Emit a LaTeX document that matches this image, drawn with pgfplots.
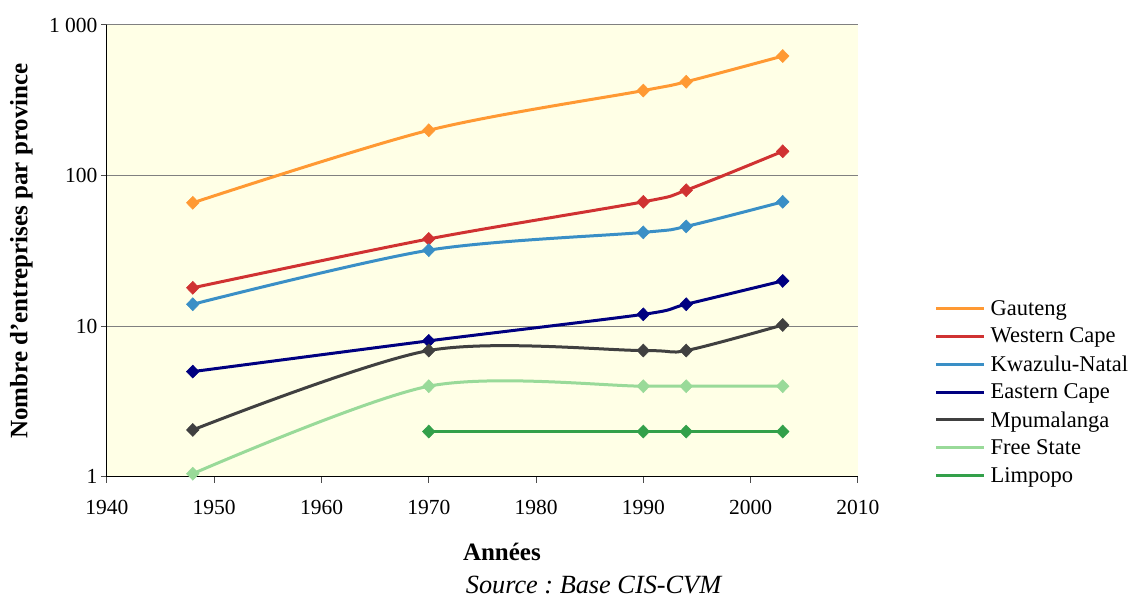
\documentclass[border=0pt]{standalone}
\usepackage{pgfplots}
\pgfplotsset{compat=1.18}
\usepackage{fontspec}
\setmainfont{Liberation Serif}
\definecolor{bgyellow}{HTML}{FFFFE6}
\definecolor{cgau}{HTML}{FF9933}
\definecolor{cwc}{HTML}{D03232}
\definecolor{ckzn}{HTML}{3A8FC6}
\definecolor{cec}{HTML}{000080}
\definecolor{cmp}{HTML}{404040}
\definecolor{cfs}{HTML}{99DA99}
\definecolor{clim}{HTML}{33A04A}
\begin{document}
\frenchspacing
\begin{tikzpicture}[x=1pt,y=1pt]
\path (0,0) rectangle (1133,599);
\begin{axis}[
  at={(107pt,122pt)}, anchor=south west,
  scale only axis, width=751pt, height=452pt,
  xmin=1940, xmax=2010, ymode=log, ymin=1, ymax=1000,
  axis background/.style={fill=bgyellow},
  axis lines*=left,
  axis line style={black, line width=1pt},
  xtick={1940,1950,...,2010},
  ytick={1,10,100,1000},
  yticklabels={1,10,100,{1 000}},
  yminorticks=false,
  tick align=outside,
  major tick length=6pt,
  tick style={black!70, line width=1pt},
  ymajorgrids, grid style={gray, line width=1pt},
  ticklabel style={font=\fontsize{21.5}{25}\selectfont},
  xticklabel style={yshift=-14pt},
  /pgf/number format/assume math mode=true,
  /pgf/number format/set thousands separator={},
  ylabel={Nombre d'entreprises par province},
  ylabel style={font=\fontsize{25}{29}\selectfont\bfseries, at={(axis description cs:-0.114,0.5)}, anchor=center},
  xlabel={Années},
  xlabel style={font=\fontsize{25}{29}\selectfont\bfseries, at={(axis description cs:0.526,-0.166)}, anchor=center},
  every axis plot/.append style={line width=3pt, smooth, mark=diamond*, mark size=6.5pt, mark options={solid, line width=0.5pt, xscale=1.3}},
  legend image code/.code={\draw[#1, line width=3pt] (0pt,0pt) -- (48pt,0pt);},
  legend style={draw=none, fill=none, font=\fontsize{22.5}{26}\selectfont,
    at={(axis description cs:1.102,0.40)}, anchor=north west,
    row sep=7.2pt, inner xsep=0pt, nodes={inner xsep=5pt}},
  legend cell align=left,
  clip=false,
]
\addplot[color=cgau] coordinates {(1948,66) (1970,200) (1990,367) (1994,420) (2003,622)};
\addlegendentry{Gauteng}
\addplot[color=cwc] coordinates {(1948,18) (1970,38) (1990,67) (1994,80) (2003,145)};
\addlegendentry{Western Cape}
\addplot[color=ckzn] coordinates {(1948,14) (1970,32) (1990,42) (1994,46) (2003,67)};
\addlegendentry{Kwazulu-Natal}
\addplot[color=cec] coordinates {(1948,5) (1970,8) (1990,12) (1994,14) (2003,20)};
\addlegendentry{Eastern Cape}
\addplot[color=cmp] coordinates {(1948,2.05) (1970,6.9) (1990,6.9) (1994,6.9) (2003,10.2)};
\addlegendentry{Mpumalanga}
\addplot[color=cfs] coordinates {(1948,1.05) (1970,4) (1990,4) (1994,4) (2003,4)};
\addlegendentry{Free State}
\addplot[color=clim] coordinates {(1970,2) (1990,2) (1994,2) (2003,2)};
\addlegendentry{Limpopo}
\node[font=\fontsize{26.3}{30}\selectfont\itshape, anchor=center] at (axis description cs:0.648,-0.239) {Source : Base CIS-CVM};
\end{axis}
\end{tikzpicture}
\end{document}
